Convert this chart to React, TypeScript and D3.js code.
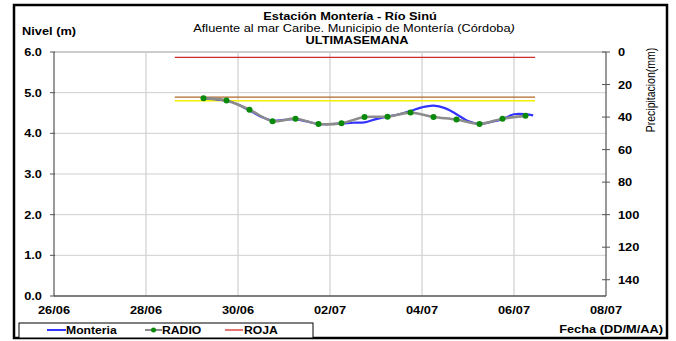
import React from "react";
import * as d3 from "d3";

const W = 676;
const H = 341;

const xTickLabels = ["26/06", "28/06", "30/06", "02/07", "04/07", "06/07", "08/07"];
const xTickDates = ["2024-06-26T00:00Z", "2024-06-28T00:00Z", "2024-06-30T00:00Z", "2024-07-02T00:00Z", "2024-07-04T00:00Z", "2024-07-06T00:00Z", "2024-07-08T00:00Z"];
const leftTicks = [0, 1, 2, 3, 4, 5, 6];
const rightTicks = [0, 20, 40, 60, 80, 100, 120, 140];

const radioTimes = [
  "2024-06-29T06:00Z", "2024-06-29T18:00Z", "2024-06-30T06:00Z", "2024-06-30T18:00Z",
  "2024-07-01T06:00Z", "2024-07-01T18:00Z", "2024-07-02T06:00Z", "2024-07-02T18:00Z",
  "2024-07-03T06:00Z", "2024-07-03T18:00Z", "2024-07-04T06:00Z", "2024-07-04T18:00Z",
  "2024-07-05T06:00Z", "2024-07-05T18:00Z", "2024-07-06T06:00Z",
];
const radioValues = [4.86, 4.81, 4.58, 4.30, 4.36, 4.23, 4.25, 4.40, 4.41, 4.51, 4.40, 4.34, 4.23, 4.36, 4.43];

const monteriaTimes = [
  "2024-06-29T06:00Z", "2024-06-29T12:00Z", "2024-06-29T18:00Z", "2024-06-30T00:00Z",
  "2024-06-30T06:00Z", "2024-06-30T12:00Z", "2024-06-30T18:00Z", "2024-07-01T00:00Z",
  "2024-07-01T06:00Z", "2024-07-01T12:00Z", "2024-07-01T18:00Z", "2024-07-02T00:00Z",
  "2024-07-02T06:00Z", "2024-07-02T12:00Z", "2024-07-02T18:00Z", "2024-07-03T00:00Z",
  "2024-07-03T06:00Z", "2024-07-03T12:00Z", "2024-07-03T18:00Z", "2024-07-04T00:00Z",
  "2024-07-04T06:00Z", "2024-07-04T12:00Z", "2024-07-04T18:00Z", "2024-07-05T00:00Z",
  "2024-07-05T06:00Z", "2024-07-05T12:00Z", "2024-07-05T18:00Z", "2024-07-06T00:00Z",
  "2024-07-06T06:00Z", "2024-07-06T10:00Z",
];
const monteriaValues = [
  4.86, 4.84, 4.80, 4.71, 4.56, 4.41, 4.31, 4.33, 4.35, 4.29, 4.23, 4.23, 4.24, 4.26,
  4.27, 4.35, 4.41, 4.47, 4.55, 4.64, 4.68, 4.62, 4.47, 4.30, 4.23, 4.28, 4.35, 4.47,
  4.47, 4.44,
];

const thresholdStart = "2024-06-28T15:00Z";
const thresholdEnd = "2024-07-06T11:00Z";
const rojaLevel = 5.87;
const naranjaLevel = 4.89;
const amarillaLevel = 4.8;

const FONT = "'Liberation Sans', Arial, sans-serif";
const SX = 1.22;

function T(props: {
  x: number; y: number; anchor?: string; size?: number; bold?: boolean; children: React.ReactNode;
}) {
  const { x, y, anchor = "start", size = 10.5, bold = true, children } = props;
  return (
    <text
      transform={`translate(${x},${y}) scale(${SX},1)`}
      textAnchor={anchor}
      fontSize={size}
      fontWeight={bold ? "bold" : "normal"}
    >
      {children}
    </text>
  );
}

export default function App() {
  const left = 54, right = 606, top = 52, bottom = 296;
  const x = d3.scaleUtc()
    .domain([new Date(xTickDates[0]), new Date(xTickDates[xTickDates.length - 1])])
    .range([left, right]);
  const y = d3.scaleLinear().domain([0, 6]).range([bottom, top]);
  const yR = d3.scaleLinear().domain([0, 150]).range([top, bottom]);

  const radio = radioTimes.map((t, i) => ({ d: new Date(t), v: radioValues[i] }));
  const mont = monteriaTimes.map((t, i) => ({ d: new Date(t), v: monteriaValues[i] }));

  const line = d3.line<{ d: Date; v: number }>()
    .x((p) => x(p.d))
    .y((p) => y(p.v))
    .curve(d3.curveCatmullRom.alpha(0.5));

  const x0 = x(new Date(thresholdStart));
  const x1 = x(new Date(thresholdEnd));

  return (
    <svg width={W} height={H} style={{ position: "absolute", left: 0, top: 0 }} fontFamily={FONT}>
      <rect x={0} y={0} width={W} height={H} fill="#fff" />
      <rect x={14} y={5} width={653} height={333} fill="none" stroke="#000" strokeWidth={2.5} />

      {/* titles */}
      <T x={350} y={20} anchor="middle">Estación Montería  - Río Sinú</T>
      <T x={354} y={32} anchor="middle" bold={false}>Afluente al mar Caribe. Municipio de Montería (Córdoba<tspan fontStyle="italic">)</tspan></T>
      <T x={357} y={44} anchor="middle">ULTIMASEMANA</T>
      <T x={22} y={35}>Nivel (m)</T>

      {/* grid */}
      {leftTicks.filter((t) => t > 0).map((t) => (
        <line key={"h" + t} x1={left} x2={right} y1={y(t)} y2={y(t)} stroke={t === 6 ? "#999" : "#cfcfcf"} strokeWidth={1} />
      ))}
      {xTickDates.slice(1, -1).map((t) => (
        <line key={"v" + t} x1={x(new Date(t))} x2={x(new Date(t))} y1={top} y2={bottom} stroke="#cfcfcf" strokeWidth={1.2} />
      ))}

      {/* axes */}
      <line x1={left} x2={left} y1={top} y2={bottom} stroke="#555" strokeWidth={1.2} />
      <line x1={left} x2={right} y1={bottom} y2={bottom} stroke="#555" strokeWidth={1.5} />
      <line x1={right} x2={right} y1={top} y2={bottom} stroke="#555" strokeWidth={1.2} />
      {leftTicks.map((t) => (
        <g key={"lt" + t}>
          <line x1={left - 4} x2={left + 1} y1={y(t)} y2={y(t)} stroke="#555" />
          <T x={42} y={y(t) + 4} anchor="end">{t.toFixed(1)}</T>
        </g>
      ))}
      {rightTicks.map((t) => (
        <g key={"rt" + t}>
          <line x1={right - 4} x2={right + 4} y1={yR(t)} y2={yR(t)} stroke="#555" />
          <T x={618} y={yR(t) + 4}>{t}</T>
        </g>
      ))}
      {xTickLabels.map((l, i) => (
        <T key={l} x={x(new Date(xTickDates[i]))} y={314} anchor="middle">{l}</T>
      ))}
      <text transform="translate(655,90) rotate(-90) scale(1,1.15)" textAnchor="middle" fontSize={10.5}>Precipitacion(mm)</text>
      <T x={663} y={333} anchor="end">Fecha (DD/M/AA)</T>

      {/* thresholds */}
      <line x1={x0} x2={x1} y1={y(rojaLevel)} y2={y(rojaLevel)} stroke="#d42a2a" strokeWidth={1.3} />
      <line x1={x0} x2={x1} y1={y(naranjaLevel)} y2={y(naranjaLevel)} stroke="#b0692a" strokeWidth={1.3} />
      <line x1={x0} x2={x1} y1={y(amarillaLevel)} y2={y(amarillaLevel)} stroke="#f5f000" strokeWidth={1.6} />

      {/* series */}
      <path d={line(mont) ?? ""} fill="none" stroke="#3333ff" strokeWidth={2.2} />
      <path d={line(radio) ?? ""} fill="none" stroke="#8c8c8c" strokeWidth={2.6} />
      {radio.map((p, i) => (
        <circle key={i} cx={x(p.d)} cy={y(p.v)} r={3} fill="#0a8a0a" />
      ))}

      {/* legend */}
      <rect x={19} y={323} width={294} height={15} fill="#fff" stroke="#000" strokeWidth={1} />
      <line x1={47} x2={66} y1={330} y2={330} stroke="#3333ff" strokeWidth={2} />
      <T x={66} y={334} size={10}>Monteria</T>
      <line x1={145} x2={162} y1={330} y2={330} stroke="#8c8c8c" strokeWidth={2} />
      <circle cx={153.5} cy={330} r={2.5} fill="#0a8a0a" />
      <T x={162} y={334} size={10}>RADIO</T>
      <line x1={225} x2={243} y1={330} y2={330} stroke="#d42a2a" strokeWidth={1.3} />
      <T x={244} y={334} size={10}>ROJA</T>
    </svg>
  );
}
